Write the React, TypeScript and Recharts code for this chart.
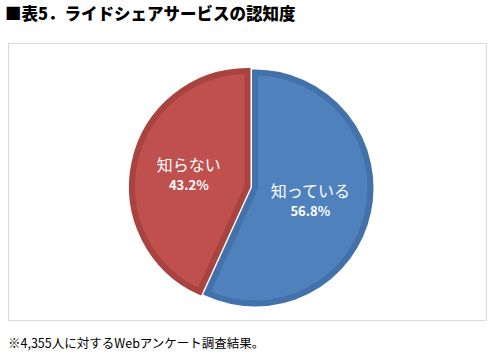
import { PieChart, Pie, Cell } from 'recharts';

const categories = ['知っている', '知らない'];
const shares = [56.8, 43.2];

const pieData = categories.map((name, i) => ({ name, value: shares[i] }));

const FILLS = ['#4f81bd', '#c0504d'];
const STROKES = ['#4371aa', '#a9433f'];
const FONT = '"Noto Sans CJK JP", "Noto Sans", sans-serif';

const makeLabel = (show: number, factor: number) => (props: any) => {
  const { cx, cy, midAngle, outerRadius, index, payload } = props;
  if (index !== show) return null;
  const RAD = Math.PI / 180;
  const r = outerRadius * factor;
  const x = cx + r * Math.cos(-midAngle * RAD);
  const y = cy + r * Math.sin(-midAngle * RAD);
  return (
    <g>
      <text x={x} y={y - 10} fill="#fff" textAnchor="middle" dominantBaseline="central" fontSize={16} fontFamily={FONT}>
        {payload.name}
      </text>
      <text x={x} y={y + 11} fill="#fff" textAnchor="middle" dominantBaseline="central" fontSize={13} fontWeight="bold" fontFamily={FONT}>
        {payload.value.toFixed(1)}%
      </text>
    </g>
  );
};

export default function App() {
  return (
    <div style={{ position: 'absolute', left: 0, top: 0, width: 493, height: 355, background: '#fff', fontFamily: FONT }}>
      <div style={{ position: 'absolute', left: 5, top: 2, fontSize: 16.5, fontWeight: 900, color: '#000', lineHeight: '22px', whiteSpace: 'nowrap' }}>
        ■表5．ライドシェアサービスの認知度
      </div>
      <div style={{ position: 'absolute', left: 8, top: 43, width: 479, height: 278, border: '1px solid #d9d9d9', boxSizing: 'border-box' }} />
      <div style={{ position: 'absolute', left: 0, top: 0 }}>
        <PieChart width={493} height={355}>
          <Pie
            data={pieData}
            dataKey="value"
            cx={250}
            cy={183}
            outerRadius={115.5}
            startAngle={90}
            endAngle={-270}
            strokeWidth={6}
            label={makeLabel(0, 0.49)}
            labelLine={false}
            isAnimationActive={false}
          >
            {pieData.map((d, i) => (
              <Cell key={d.name} fill={i === 0 ? FILLS[0] : 'transparent'} stroke={i === 0 ? STROKES[0] : 'none'} />
            ))}
          </Pie>
          <Pie
            data={pieData}
            dataKey="value"
            cx={242.5}
            cy={181.5}
            outerRadius={115.5}
            startAngle={90}
            endAngle={-270}
            strokeWidth={6}
            label={makeLabel(1, 0.52)}
            labelLine={false}
            isAnimationActive={false}
          >
            {pieData.map((d, i) => (
              <Cell key={d.name} fill={i === 1 ? FILLS[1] : 'transparent'} stroke={i === 1 ? STROKES[1] : 'none'} />
            ))}
          </Pie>
        </PieChart>
      </div>
      <div style={{ position: 'absolute', left: 8, top: 335, fontSize: 12.5, color: '#000', lineHeight: '16px', whiteSpace: 'nowrap' }}>
        ※4,355人に対するWebアンケート調査結果。
      </div>
    </div>
  );
}
